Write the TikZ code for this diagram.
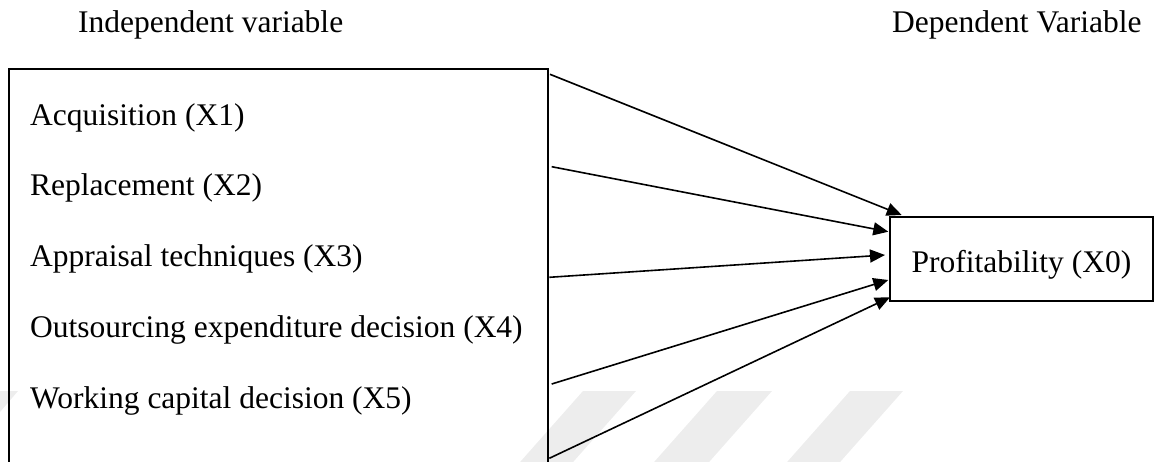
\documentclass[tikz,border=0pt]{standalone}
\usepackage{fontspec}
\setmainfont{Liberation Serif}
\usetikzlibrary{arrows.meta}
\begin{document}
\begin{tikzpicture}[x=1pt,y=-1pt,
  lbl/.style={anchor=base west, inner sep=0pt, font=\fontsize{31.5}{38}\selectfont},
  box/.style={draw, line width=1.6pt, inner sep=0pt},
  conn/.style={line width=1.6pt, -{Triangle[length=15pt,width=13pt]}},
  wm/.style={fill=black!7, draw=none}]
\useasboundingbox (0,0) rectangle (1157,461);
\clip (0,0) rectangle (1157,461);
% faint watermark bands
\fill[wm] (583,391) -- (636,391) -- (566,470) -- (513,470) -- cycle;
\fill[wm] (717,391) -- (772,391) -- (702,470) -- (647,470) -- cycle;
\fill[wm] (850,391) -- (903,391) -- (833,470) -- (780,470) -- cycle;
\fill[wm] (0,391) -- (18,391) -- (0,412) -- cycle;
% headings
\node[lbl] (hi) at (78,32) {Independent variable};
\node[lbl] (hd) at (892,32) {Dependent Variable};
% boxes
\node[box, fill=none, minimum width=539pt, minimum height=430pt] (L) at (278.5,284) {};
\node[box, minimum width=263pt, minimum height=84pt, text height=28pt, text depth=0pt,
      font=\fontsize{31.5}{38}\selectfont] (P) at (1021.5,258.7) {Profitability (X0)};
% items
\node[lbl] (x1) at (30,125) {Acquisition (X1)};
\node[lbl] (x2) at (30,195) {Replacement (X2)};
\node[lbl] (x3) at (30,266) {Appraisal techniques (X3)};
\node[lbl] (x4) at (30,337) {Outsourcing expenditure decision (X4)};
\node[lbl] (x5) at (30,408) {Working capital decision (X5)};
% connector ends
\coordinate (s1) at (550,74.3);
\coordinate (s2) at (551.7,166.7);
\coordinate (s3) at (549.3,277.3);
\coordinate (s4) at (551.7,384);
\coordinate (s5) at (549.3,458.3);
\coordinate (t1) at (901.7,215);
\coordinate (t2) at (888.3,231.7);
\coordinate (t3) at (885,255);
\coordinate (t4) at (888.3,280);
\coordinate (t5) at (890,297.3);
\draw[conn] (s1) -- (t1);
\draw[conn] (s2) -- (t2);
\draw[conn] (s3) -- (t3);
\draw[conn] (s4) -- (t4);
\draw[conn] (s5) -- (t5);
\end{tikzpicture}
\end{document}
